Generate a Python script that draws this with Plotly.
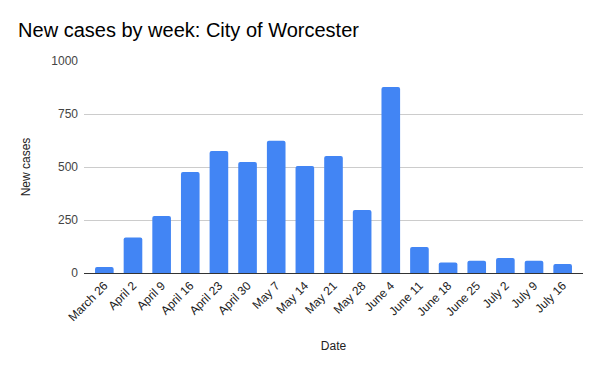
import plotly.graph_objects as go

dates = ["March 26", "April 2", "April 9", "April 16", "April 23", "April 30", "May 7",
         "May 14", "May 21", "May 28", "June 4", "June 11", "June 18", "June 25",
         "July 2", "July 9", "July 16"]
new_cases = [28, 168, 269, 476, 575, 523, 624, 505, 552, 297, 877, 123, 49, 58, 71, 58, 42]
y_ticks = [0, 250, 500, 750, 1000]

fig = go.Figure(go.Bar(
    x=dates, y=new_cases,
    marker=dict(color="#4285F4", cornerradius=2, line=dict(width=0)),
))

font_family = "Liberation Sans, Arial, sans-serif"
fig.update_layout(
    width=592, height=363,
    margin=dict(l=76, r=17, t=53, b=98, autoexpand=False),
    paper_bgcolor="white", plot_bgcolor="white",
    font=dict(family=font_family, size=12, color="#222"),
    title=dict(text="New cases by week: City of Worcester", x=0.017, xanchor="left",
               y=0.939, yanchor="middle", font=dict(size=20, color="#000")),
    bargap=0.35,
    showlegend=False,
)
fig.update_xaxes(
    range=[-0.71, len(dates) - 1 + 0.71],
    tickangle=-45, tickfont=dict(size=12, color="#222"), automargin=False,
    showgrid=False, showline=True, linecolor="#333", linewidth=1,
    title=dict(text="Date", font=dict(size=12, color="#222"), standoff=18),
    ticks="",
)
fig.update_yaxes(
    range=[0, 1000], tickvals=y_ticks, tickfont=dict(size=12, color="#444"),
    automargin=False,
    showgrid=True, gridcolor="#cccccc", gridwidth=1, zeroline=False,
    ticks="", ticklabelstandoff=5,
    title=dict(text="New cases", font=dict(size=12, color="#222"), standoff=18),
)
fig.write_html("out.html")
